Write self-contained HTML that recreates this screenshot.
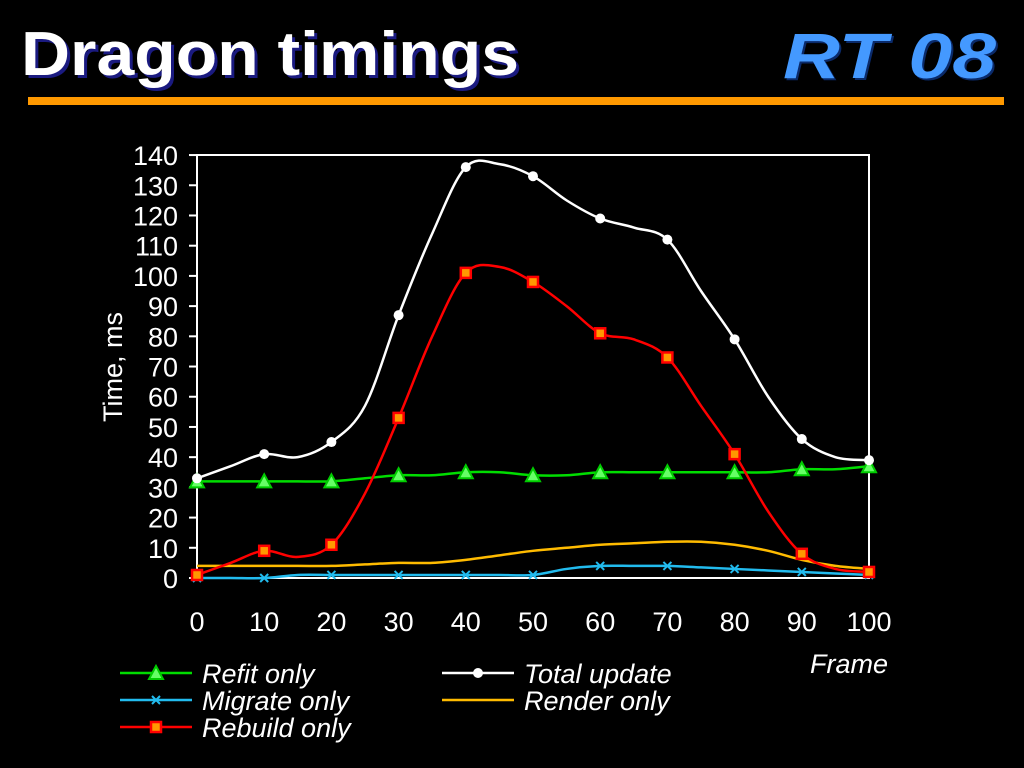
<!DOCTYPE html>
<html><head><meta charset="utf-8"><style>
body{margin:0;width:1024px;height:768px;background:#000;overflow:hidden;font-family:"Liberation Sans",sans-serif}
svg{position:absolute;left:0;top:0}
</style></head><body>
<svg width="1024" height="768">
<text x="24" y="78" font-size="62" font-weight="bold" fill="#1a1a80" textLength="498" lengthAdjust="spacingAndGlyphs">Dragon timings</text>
<text x="21" y="75" font-size="62" font-weight="bold" fill="#fff" textLength="498" lengthAdjust="spacingAndGlyphs">Dragon timings</text>
<text x="785" y="80" font-size="64" font-style="italic" font-weight="bold" fill="#0a2a6a" textLength="213" lengthAdjust="spacingAndGlyphs">RT 08</text>
<text x="783" y="78" font-size="64" font-style="italic" font-weight="bold" fill="#4499ff" textLength="213" lengthAdjust="spacingAndGlyphs">RT 08</text>
<rect x="28" y="97" width="976" height="8" fill="#ff9900"/>
<rect x="197" y="155" width="672" height="423" fill="none" stroke="#fff" stroke-width="2"/>
<g id="axes"></g><g id="series"></g>
<text transform="translate(122,367) rotate(-90)" text-anchor="middle" font-size="27" fill="#fff">Time, ms</text>
<text x="888" y="673" text-anchor="end" font-size="27" font-style="italic" fill="#fff">Frame</text>
<g id="legend" font-size="27" font-style="italic" fill="#fff"></g>
</svg>
<script>
const frames=[0,5,10,15,20,25,30,35,40,45,50,55,60,65,70,75,80,85,90,95,100];
const total=[33,37,41,40,45,57,87,114,136,137,133,125,119,116,112,95,79,60,46,40,39];
const rebuild=[1,5,9,7,11,28,53,80,101,103,98,90,81,79,73,57,41,22,8,3,2];
const refit=[32,32,32,32,32,33,34,34,35,35,34,34,35,35,35,35,35,35,36,36,37];
const render=[4,4,4,4,4,4.5,5,5,6,7.5,9,10,11,11.5,12,12,11,9,6,4,3];
const migrate=[0,0,0,1,1,1,1,1,1,1,1,3,4,4,4,3.5,3,2.5,2,1.5,1];
const xTicks=[0,10,20,30,40,50,60,70,80,90,100];
const yTicks=[0,10,20,30,40,50,60,70,80,90,100,110,120,130,140];
const NS="http://www.w3.org/2000/svg";
const X=v=>197+v*6.72, Y=v=>578-v*3.021;
function mk(t,a,p){const e=document.createElementNS(NS,t);for(const k in a)e.setAttribute(k,a[k]);p.appendChild(e);return e;}
const ax=document.getElementById('axes');
yTicks.forEach(v=>{
 const l=mk('line',{x1:189,x2:197,y1:Y(v),y2:Y(v),stroke:'#fff','stroke-width':2},ax);
 
 
 const t=mk('text',{x:178,y:Y(v)+10,'text-anchor':'end','font-size':27,fill:'#fff'},ax);t.textContent=v;
 
 
});
xTicks.forEach(v=>{
 const t=mk('text',{x:X(v),y:631,'text-anchor':'middle','font-size':27,fill:'#fff'},ax);t.textContent=v;
 
 
});
function path(vals){const p=frames.map((f,i)=>[X(f),Y(vals[i])]);let d='M'+p[0];
 for(let i=0;i<p.length-1;i++){const a=p[i-1]||p[i],b=p[i],c=p[i+1],e=p[i+2]||c;
 d+=' C'+(b[0]+(c[0]-a[0])/6)+','+(b[1]+(c[1]-a[1])/6)+' '+(c[0]-(e[0]-b[0])/6)+','+(c[1]-(e[1]-b[1])/6)+' '+c;}return d;}
function marker(type,x,y,col,g){
 if(type=='tri')return mk('polygon',{points:`${x},${y-7} ${x-7},${y+6} ${x+7},${y+6}`,fill:'#66ff66',stroke:'#00cc00','stroke-width':2},g);
 if(type=='sq')return mk('rect',{x:x-5,y:y-5,width:10,height:10,fill:'#ff9900',stroke:'#ff0000','stroke-width':2.5},g);
 if(type=='dot')return mk('circle',{cx:x,cy:y,r:5,fill:'#fff'},g);
 if(type=='x'){const e=mk('path',{d:`M${x-4},${y-4}L${x+4},${y+4}M${x-4},${y+4}L${x+4},${y-4}`,stroke:col,'stroke-width':2},g);return e;}
}
const sg=document.getElementById('series');
const S=[['render-only',render,'#ffbb00',null],['migrate-only',migrate,'#22bbee','x'],['refit-only',refit,'#00dd00','tri'],['rebuild-only',rebuild,'#ff0000','sq'],['total-update',total,'#ffffff','dot']];
S.forEach(([n,v,c,m])=>{
 const g=mk('g',{},sg);
 
 
 mk('path',{d:path(v),fill:'none',stroke:c,'stroke-width':2.5},g);
 if(m)frames.forEach((f,i)=>{if(f%10==0){const e=marker(m,X(f),Y(v[i]),c,g);
  
  }});
});
const lg=document.getElementById('legend');
[['Refit only','#00dd00','tri',120,673],['Migrate only','#22bbee','x',120,700],['Rebuild only','#ff0000','sq',120,727],['Total update','#ffffff','dot',442,673],['Render only','#ffbb00',null,442,700]].forEach(([t,c,m,x,y])=>{
 const g=mk('g',{},lg);
 
 
 mk('line',{x1:x,x2:x+72,y1:y,y2:y,stroke:c,'stroke-width':2.5},g);
 if(m)marker(m,x+36,y,c,g);
 const tx=mk('text',{x:x+82,y:y+10},g);tx.textContent=t;
});
</script>
</body></html>
